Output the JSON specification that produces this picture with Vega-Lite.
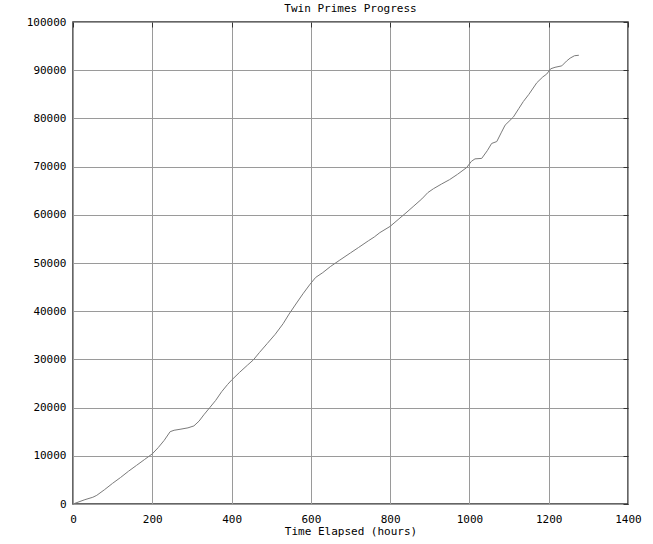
{
  "$schema": "https://vega.github.io/schema/vega-lite/v6.json",
  "width": 555,
  "height": 482,
  "autosize": {"type": "none"},
  "padding": {"left": 73, "top": 22, "right": 25, "bottom": 40},
  "background": "white",
  "title": {"text": "Twin Primes Progress", "font": "DejaVu Sans Mono", "fontSize": 11, "fontWeight": "normal", "color": "#000", "offset": 2, "anchor": "middle"},
  "config": {
    "view": {"stroke": "#333", "strokeWidth": 1.5},
    "axis": {"labelFont": "DejaVu Sans Mono", "labelFontSize": 11, "labelColor": "#000", "titleFont": "DejaVu Sans Mono", "titleFontSize": 11, "titleFontWeight": "normal", "titleColor": "#000", "domain": false, "gridColor": "#9a9a9a", "gridOpacity": 1, "gridWidth": 1}
  },
  "data": {"values": [
    {"t":0,"n":0},{"t":10,"n":300},{"t":30,"n":900},{"t":50,"n":1400},{"t":60,"n":1800},{"t":80,"n":3000},{"t":100,"n":4300},{"t":120,"n":5500},{"t":140,"n":6800},{"t":160,"n":8000},{"t":180,"n":9200},{"t":200,"n":10400},{"t":215,"n":11700},{"t":230,"n":13200},{"t":245,"n":15000},{"t":255,"n":15300},{"t":270,"n":15500},{"t":290,"n":15800},{"t":305,"n":16200},{"t":318,"n":17200},{"t":330,"n":18500},{"t":345,"n":20000},{"t":360,"n":21500},{"t":375,"n":23300},{"t":390,"n":24800},{"t":400,"n":25700},{"t":420,"n":27300},{"t":440,"n":28800},{"t":455,"n":29900},{"t":470,"n":31400},{"t":490,"n":33300},{"t":510,"n":35200},{"t":530,"n":37400},{"t":545,"n":39400},{"t":564,"n":41700},{"t":580,"n":43600},{"t":598,"n":45600},{"t":612,"n":47000},{"t":630,"n":48000},{"t":650,"n":49300},{"t":673,"n":50600},{"t":700,"n":52100},{"t":720,"n":53200},{"t":745,"n":54600},{"t":760,"n":55400},{"t":774,"n":56300},{"t":800,"n":57600},{"t":820,"n":59000},{"t":840,"n":60400},{"t":858,"n":61700},{"t":880,"n":63300},{"t":895,"n":64600},{"t":909,"n":65400},{"t":930,"n":66400},{"t":950,"n":67300},{"t":970,"n":68400},{"t":993,"n":69800},{"t":1005,"n":71100},{"t":1014,"n":71600},{"t":1031,"n":71700},{"t":1045,"n":73300},{"t":1056,"n":74800},{"t":1069,"n":75200},{"t":1080,"n":77000},{"t":1090,"n":78600},{"t":1100,"n":79400},{"t":1111,"n":80300},{"t":1125,"n":82100},{"t":1136,"n":83500},{"t":1150,"n":85000},{"t":1170,"n":87400},{"t":1185,"n":88600},{"t":1195,"n":89200},{"t":1205,"n":90300},{"t":1216,"n":90600},{"t":1233,"n":90900},{"t":1245,"n":91900},{"t":1254,"n":92500},{"t":1265,"n":93000},{"t":1276,"n":93100}
  ]},
  "layer": [
    {
      "mark": {"type": "line", "color": "#7a7a7a", "strokeWidth": 1},
      "encoding": {
        "x": {"field": "t", "type": "quantitative", "scale": {"domain": [0, 1400], "nice": false}, "axis": {"title": "Time Elapsed (hours)", "values": [0,200,400,600,800,1000,1200,1400], "format": "d", "ticks": false, "labelPadding": 9, "titlePadding": 1, "labelFlush": false}},
        "y": {"field": "n", "type": "quantitative", "scale": {"domain": [0, 100000], "nice": false}, "axis": {"title": null, "values": [0,10000,20000,30000,40000,50000,60000,70000,80000,90000,100000], "format": "d", "ticks": false, "labelPadding": 7, "labelFlush": false}}
      }
    },
    {
      "mark": {"type": "line", "opacity": 0},
      "encoding": {
        "x": {"field": "t", "type": "quantitative", "scale": {"domain": [0, 1400], "nice": false}, "axis": {"orient": "top", "title": null, "labels": false, "grid": false, "ticks": true, "tickSize": -5, "tickColor": "#333", "values": [0,200,400,600,800,1000,1200,1400]}},
        "y": {"field": "n", "type": "quantitative", "scale": {"domain": [0, 100000], "nice": false}, "axis": {"orient": "right", "title": null, "labels": false, "grid": false, "ticks": true, "tickSize": -5, "tickColor": "#333", "values": [0,10000,20000,30000,40000,50000,60000,70000,80000,90000,100000]}}
      }
    }
  ],
  "resolve": {"axis": {"x": "independent", "y": "independent"}}
}
